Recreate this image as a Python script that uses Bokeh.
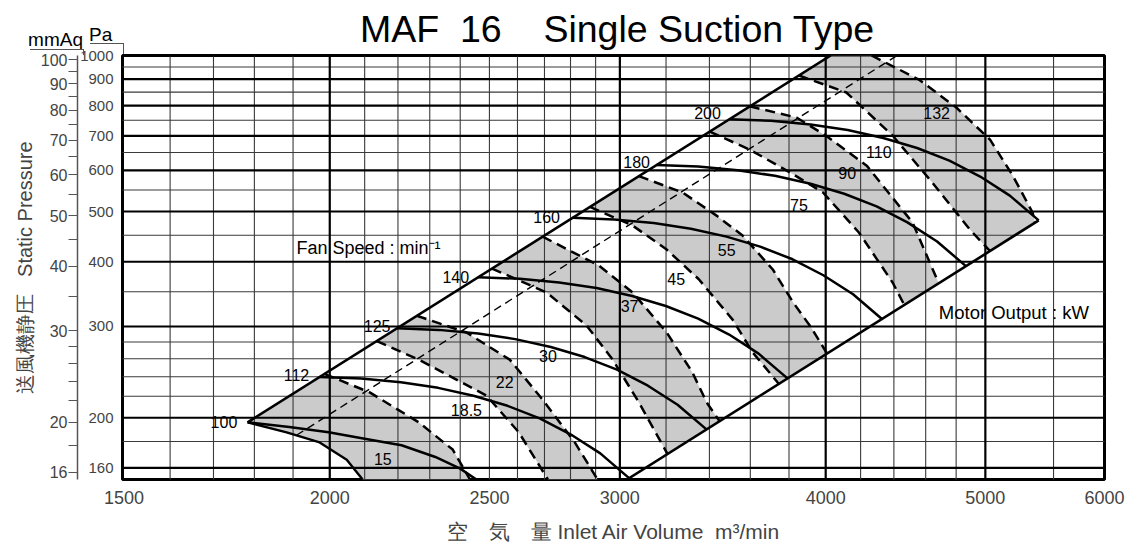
from bokeh.plotting import figure
from bokeh.layouts import column
from bokeh.models import Range1d, LogAxis, LogScale, FixedTicker, NumeralTickFormatter, Div
from bokeh.core.properties import value
from bokeh.embed import file_html
from bokeh.resources import INLINE

FONT = "Liberation Sans"

# ---------------- data ----------------
title_text = "MAF\u00a0\u00a016\u00a0\u00a0\u00a0\u00a0Single Suction Type"
x_ticks = [1500, 2000, 2500, 3000, 4000, 5000, 6000]
x_grid_major = [2000, 3000, 4000, 5000]
x_grid_minor = [1600, 1700, 1800, 1900, 2100, 2200, 2300, 2400, 2500, 2600, 2700, 2800, 2900,
                3200, 3400, 3600, 3800, 4200, 4400, 4600, 4800, 5500]
pa_ticks = [160, 200, 300, 400, 500, 600, 700, 800, 900, 1000]
pa_grid_major = [160, 200, 300, 400, 500, 600, 700, 800, 900, 1000]
pa_grid_minor = [180, 220, 240, 260, 280, 350, 450, 550, 650, 750, 850, 950]
mmaq_ticks = [16, 20, 30, 40, 50, 60, 70, 80, 90, 100]
mmaq_minor = [18, 22, 24, 26, 28, 35, 45, 55, 65, 75, 85, 95]
PA_PER_MMAQ = 9.80665

# fan speed curves (min^-1)
speed_labels = ["100", "112", "125", "140", "160", "180", "200"]
speed_Q = [
    [1783, 1890, 1997, 2104, 2211, 2318, 2400, 2470],
    [1972, 2090, 2209, 2327, 2445, 2564, 2682, 2800, 2919, 3039],
    [2197, 2329, 2461, 2592, 2724, 2856, 2988, 3120, 3252, 3386],
    [2461, 2609, 2756, 2904, 3052, 3199, 3347, 3495, 3642, 3792],
    [2808, 2976, 3145, 3313, 3482, 3650, 3819, 3987, 4156, 4327],
    [3158, 3347, 3537, 3726, 3916, 4105, 4295, 4484, 4674, 4866],
    [3496, 3706, 3916, 4125, 4335, 4545, 4755, 4964, 5174, 5387],
]
speed_P = [
    [196.0, 192.0, 187.5, 182.0, 177.0, 168.0, 159.5, 150.0],
    [239.7, 238.0, 234.2, 228.4, 220.5, 210.9, 199.4, 185.8, 170.7, 152.9],
    [297.6, 295.5, 290.8, 283.6, 273.8, 261.9, 247.6, 230.6, 211.9, 189.9],
    [373.4, 370.8, 364.8, 355.8, 343.5, 328.6, 310.7, 289.4, 265.9, 238.2],
    [486.1, 482.7, 474.9, 463.3, 447.2, 427.8, 404.4, 376.7, 346.1, 310.1],
    [614.8, 610.5, 600.7, 585.9, 565.6, 541.0, 511.5, 476.5, 437.7, 392.2],
    [753.5, 748.2, 736.2, 718.1, 693.2, 663.1, 626.9, 584.0, 536.5, 480.7],
]
speed_label_Q = [1725, 1909, 2137, 2385, 2708, 3071, 3391]
speed_label_P = [196, 242, 300, 373, 487, 622, 773]

# boundary lines
surge_Q = [1783, 4028]
surge_P = [196, 1000]
limit_Q = [3030, 5387]
limit_P = [152, 480.7]
eff_Q = [1909, 4420]
eff_P = [185, 1000]

# lowest power boundary (solid)
base_Q = [1783, 1883, 1972, 2048, 2094]
base_P = [196, 187.4, 179.2, 166, 152]

# motor output lines (kW)
kw_labels = ["15", "18.5", "22", "30", "37", "45", "55", "75", "90", "110", "132"]
kw_Q = [
    [1985, 2115, 2265, 2375, 2433],
    [2136, 2265, 2490, 2605, 2713],
    [2259, 2421, 2572, 2693, 2817, 2908],
    [2509, 2708, 2864, 2970, 3081, 3207],
    [2693, 2913, 3054, 3203, 3320, 3387, 3449],
    [2877, 3054, 3203, 3350, 3512, 3612, 3747],
    [3081, 3275, 3434, 3561, 3715, 3822, 3920, 4008],
    [3401, 3597, 3806, 3985, 4190, 4392, 4465],
    [3597, 3840, 4000, 4236, 4516, 4685],
    [3853, 4117, 4392, 4642, 4893, 5033],
    [4265, 4556, 4801, 5033, 5195, 5341, 5360],
]
kw_P = [
    [243, 223.8, 195.9, 173.6, 152],
    [281, 258.9, 220.6, 187.4, 152],
    [314.6, 292.1, 258.9, 216.7, 179.2, 152],
    [388.1, 349, 301.1, 258.9, 214.1, 170.2],
    [447.1, 393.3, 349, 292.1, 244.6, 214.1, 196.9],
    [510.3, 469.7, 422.2, 370.0, 309.3, 267.3, 232.4],
    [585.2, 544, 491, 449.5, 386.4, 333.8, 298.5, 265.9],
    [713.1, 658.3, 594.6, 544, 455.5, 364.8, 329.9],
    [797.7, 759.2, 700.7, 613, 476.2, 363.3],
    [915, 848.5, 700.7, 568.8, 461.4, 419.2],
    [1000, 898.8, 793.8, 688, 586.6, 497.8, 475.5],
]
kw_label_Q = [2154, 2421, 2554, 2713, 3041, 3246, 3483, 3853, 4122, 4308, 4671]
kw_label_P = [166.7, 207.3, 234.0, 263.6, 329.2, 369.9, 422.2, 515.7, 594.6, 650, 776]

X_START, X_END = 1497, 5906
Y_START, Y_END = 152, 1000

# ---------------- header (title + unit headers) ----------------
LINE = "1.5px solid #555"
header_html = (
    '<div style="position:relative;width:1120px;height:33px;overflow:visible;'
    'font-family:\'Liberation Sans\',sans-serif;color:#000;">'
    f'<div style="position:absolute;left:355px;top:2px;font-size:37.5px;line-height:44px;'
    f'white-space:pre;">{title_text}</div>'
    '<div style="position:absolute;left:16px;top:24px;width:62px;text-align:right;'
    'font-size:19px;line-height:22px;">mmAq</div>'
    f'<div style="position:absolute;left:25px;top:44px;width:54px;height:0;border-top:{LINE};"></div>'
    f'<div style="position:absolute;left:78px;top:44px;width:0;height:6px;border-left:{LINE};"></div>'
    '<div style="position:absolute;left:84px;top:19px;font-size:19px;line-height:22px;">Pa</div>'
    f'<div style="position:absolute;left:85px;top:38px;width:34px;height:0;border-top:{LINE};"></div>'
    f'<div style="position:absolute;left:118px;top:38px;width:0;height:11px;border-left:{LINE};"></div>'
    '</div>'
)
header = Div(text=header_html, width=1120, height=33,
             styles={"overflow": "visible", "z-index": "10", "position": "relative"})

# ---------------- figure ----------------
p = figure(frame_width=982, frame_height=424, x_axis_type="log", y_axis_type="log",
           x_range=Range1d(X_START, X_END), y_range=Range1d(Y_START, Y_END),
           output_backend="svg", toolbar_location=None,
           min_border_left=122, min_border_right=25, min_border_top=12, min_border_bottom=60)
p.xgrid.visible = False
p.ygrid.visible = False
p.outline_line_color = "black"
p.outline_line_width = 3
p.background_fill_color = "white"
p.border_fill_color = "white"

# grey bands between alternate motor-output lines
bounds_Q = [base_Q] + kw_Q
bounds_P = [base_P] + kw_P
band_xs, band_ys = [], []
for i in range(0, len(bounds_Q), 2):
    aq, ap = bounds_Q[i], bounds_P[i]
    bq, bp = bounds_Q[i + 1], bounds_P[i + 1]
    xs = list(aq) + list(reversed(bq))
    ys = list(ap) + list(reversed(bp))
    if bp[0] >= surge_P[-1]:
        xs.append(surge_Q[-1])
        ys.append(surge_P[-1])
    band_xs.append(xs)
    band_ys.append(ys)
p.patches(band_xs, band_ys, fill_color="#cbcbcb", line_color=None)

# grid
p.multi_line([[v, v] for v in x_grid_minor], [[100, 2000]] * len(x_grid_minor),
             line_color="#3a3a3a", line_width=1.1)
p.multi_line([[1000, 10000]] * len(pa_grid_minor), [[v, v] for v in pa_grid_minor],
             line_color="#3a3a3a", line_width=1.1)
p.multi_line([[v, v] for v in x_grid_major], [[100, 2000]] * len(x_grid_major),
             line_color="black", line_width=2.2)
p.multi_line([[1000, 10000]] * len(pa_grid_major), [[v, v] for v in pa_grid_major],
             line_color="black", line_width=2.2)

# boundaries and curves
p.line(eff_Q, eff_P, line_color="black", line_width=1.4, line_dash="8 5")
p.line(surge_Q, surge_P, line_color="black", line_width=2.6)
p.line(limit_Q, limit_P, line_color="black", line_width=2.6)
p.line(base_Q, base_P, line_color="black", line_width=2.4)
p.multi_line(speed_Q, speed_P, line_color="black", line_width=2.5)
p.multi_line(kw_Q, kw_P, line_color="black", line_width=2.5, line_dash="10 6")

# labels
p.text(speed_label_Q, speed_label_P, text=speed_labels, text_font=value(FONT),
       text_font_size="16px", text_align="center", text_baseline="middle", text_color="black")
p.text(kw_label_Q, kw_label_P, text=kw_labels, text_font=value(FONT),
       text_font_size="16px", text_align="center", text_baseline="middle", text_color="black")
p.text([1909], [426], text=["Fan Speed : min\u207b\u00b9"], text_font=value(FONT),
       text_font_size="18px", text_align="left", text_baseline="middle", text_color="black")
p.text([4685], [319], text=["Motor Output : kW"], text_font=value(FONT),
       text_font_size="18.5px", text_align="left", text_baseline="middle", text_color="black")

# x axis
x_pos = [min(t, X_END) for t in x_ticks]
xax = p.xaxis[0]
xax.ticker = FixedTicker(ticks=x_pos, minor_ticks=[])
xax.formatter = NumeralTickFormatter(format="0")
xax.major_label_overrides = {pos: str(t) for pos, t in zip(x_pos, x_ticks)}
xax.major_tick_line_color = None
xax.minor_tick_line_color = None
xax.axis_line_color = None
xax.major_label_text_font = FONT
xax.major_label_text_font_size = "18px"
xax.major_label_standoff = 5
xax.axis_label = "空\u3000気\u3000量 Inlet Air Volume\u00a0\u00a0m³/min"
xax.axis_label_text_font = FONT
xax.axis_label_text_font_size = "21px"
xax.axis_label_text_font_style = "normal"
xax.axis_label_standoff = 13

# Pa axis
yax = p.yaxis[0]
yax.ticker = FixedTicker(ticks=pa_ticks, minor_ticks=[])
yax.formatter = NumeralTickFormatter(format="0")
yax.major_tick_line_color = None
yax.minor_tick_line_color = None
yax.axis_line_color = None
yax.major_label_text_font = FONT
yax.major_label_text_font_size = "15px"
yax.major_label_standoff = 3

# mmAq axis
p.extra_y_ranges = {"mmaq": Range1d(Y_START / PA_PER_MMAQ, Y_END / PA_PER_MMAQ)}
p.extra_y_scales = {"mmaq": LogScale()}
ax2 = LogAxis(y_range_name="mmaq", ticker=FixedTicker(ticks=mmaq_ticks, minor_ticks=mmaq_minor),
              formatter=NumeralTickFormatter(format="0"))
ax2.major_tick_out = 9
ax2.minor_tick_out = 9
ax2.major_tick_in = 0
ax2.minor_tick_in = 0
ax2.axis_line_color = "#555555"
ax2.axis_line_width = 1.5
ax2.major_tick_line_color = "#555555"
ax2.minor_tick_line_color = "#555555"
ax2.major_label_standoff = 1
ax2.major_label_text_font = FONT
ax2.major_label_text_font_size = "16px"
ax2.axis_label = "送風機静圧\u00a0\u00a0\u00a0Static Pressure"
ax2.axis_label_text_font = FONT
ax2.axis_label_text_font_size = "20px"
ax2.axis_label_text_font_style = "normal"
ax2.axis_label_standoff = 2
p.add_layout(ax2, "left")

layout = column(header, p, spacing=0)
open("out.html", "w").write(file_html(layout, INLINE))
